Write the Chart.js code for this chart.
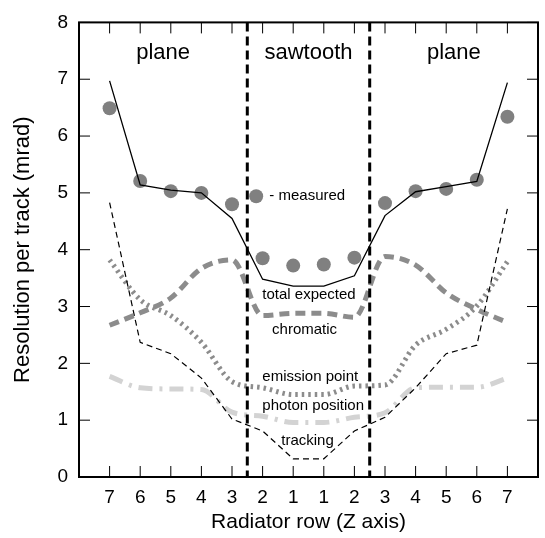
<!DOCTYPE html>
<html lang="en">
<head>
  <meta charset="UTF-8" />
  <title>Resolution per track</title>
  <script src="https://cdn.jsdelivr.net/npm/chart.js"></script>
  <style>
    body { margin: 0; background: #fff; }
    #chart { display: block; }
  </style>
</head>
<body>
  <canvas id="chart" width="545" height="538"></canvas>

  <script>
    // radiator rows along the Z axis, left plane -> sawtooth -> right plane
    const rows = ["7", "6", "5", "4", "3", "2", "1", "1", "2", "3", "4", "5", "6", "7"];
    const yTicks = [0, 1, 2, 3, 4, 5, 6, 7, 8];

    const measured      = [6.49, 5.21, 5.03, 5.00, 4.80, 3.85, 3.72, 3.74, 3.86, 4.82, 5.03, 5.07, 5.23, 6.34];
    const totalExpected = [6.97, 5.14, 5.05, 5.00, 4.55, 3.48, 3.36, 3.36, 3.54, 4.60, 5.02, 5.11, 5.20, 6.94];
    const chromatic     = [2.67, 2.89, 3.15, 3.67, 3.82, 2.84, 2.88, 2.88, 2.81, 3.88, 3.73, 3.24, 2.95, 2.72];
    const emission      = [3.82, 3.12, 2.84, 2.37, 1.68, 1.57, 1.45, 1.45, 1.60, 1.62, 2.32, 2.60, 3.01, 3.79];
    const photon        = [1.77, 1.57, 1.55, 1.54, 1.14, 1.07, 0.96, 0.96, 1.05, 1.13, 1.57, 1.58, 1.58, 1.74];
    const tracking      = [4.83, 2.37, 2.17, 1.74, 1.02, 0.81, 0.32, 0.32, 0.81, 1.05, 1.57, 2.17, 2.32, 4.72];

    // boundaries between radiator types (in row-index units)
    const sectionBounds = [5.5, 9.5];
    const sections = [
      { text: "plane", from: 0, to: 5.5 },
      { text: "sawtooth", from: 5.5, to: 9.5 },
      { text: "plane", from: 9.5, to: 15 }
    ];
    const sectionLabelY = 7.47;

    // in-plot labels, x/y in data units, left aligned
    const notes = [
      { text: "- measured", x: 6.22, y: 4.94 },
      { text: "total expected", x: 5.99, y: 3.21 },
      { text: "chromatic", x: 6.31, y: 2.59 },
      { text: "emission point", x: 5.99, y: 1.77 },
      { text: "photon position", x: 5.99, y: 1.25 },
      { text: "tracking", x: 6.61, y: 0.64 }
    ];
    const measuredKey = { x: 5.79, y: 4.94 };

    const FONT = "'Liberation Sans', Arial, Helvetica, sans-serif";
    const toPoints = arr => arr.map((v, i) => ({ x: i + 1, y: v }));

    const overlay = {
      id: "overlay",
      afterDatasetsDraw(chart) {
        const { ctx, chartArea: a, scales: { x, y } } = chart;
        ctx.save();

        // dashed section boundaries
        ctx.strokeStyle = "#000";
        ctx.lineWidth = 3;
        ctx.setLineDash([9, 5]);
        sectionBounds.forEach(b => {
          const px = x.getPixelForValue(b);
          ctx.beginPath();
          ctx.moveTo(px, a.top);
          ctx.lineTo(px, a.bottom);
          ctx.stroke();
        });
        ctx.setLineDash([]);

        // inward ticks on all four sides
        ctx.lineWidth = 1;
        ctx.beginPath();
        x.ticks.forEach(t => {
          const px = x.getPixelForValue(t.value);
          ctx.moveTo(px, a.bottom); ctx.lineTo(px, a.bottom - 11);
          ctx.moveTo(px, a.top); ctx.lineTo(px, a.top + 11);
        });
        y.ticks.forEach(t => {
          const py = y.getPixelForValue(t.value);
          ctx.moveTo(a.left, py); ctx.lineTo(a.left + 11, py);
          ctx.moveTo(a.right, py); ctx.lineTo(a.right - 11, py);
        });
        ctx.stroke();

        // frame
        ctx.lineWidth = 2;
        ctx.strokeRect(a.left, a.top, a.right - a.left, a.bottom - a.top);

        // section names
        ctx.fillStyle = "#000";
        ctx.textAlign = "center";
        ctx.textBaseline = "middle";
        ctx.font = "22px " + FONT;
        sections.forEach(s => {
          const px = (x.getPixelForValue(s.from) + x.getPixelForValue(s.to)) / 2;
          ctx.fillText(s.text, px, y.getPixelForValue(sectionLabelY));
        });

        // curve labels
        ctx.textAlign = "left";
        ctx.font = "15px " + FONT;
        notes.forEach(n => ctx.fillText(n.text, x.getPixelForValue(n.x), y.getPixelForValue(n.y)));

        // marker for "measured"
        ctx.fillStyle = "#808080";
        ctx.beginPath();
        ctx.arc(x.getPixelForValue(measuredKey.x), y.getPixelForValue(measuredKey.y), 7, 0, Math.PI * 2);
        ctx.fill();

        ctx.restore();
      }
    };

    new Chart(document.getElementById("chart"), {
      type: "line",
      data: {
        datasets: [
          { label: "total expected", data: toPoints(totalExpected), borderColor: "#000", borderWidth: 1.3, pointRadius: 0, tension: 0, order: 1 },
          { label: "tracking", data: toPoints(tracking), borderColor: "#000", borderWidth: 1.2, borderDash: [6, 4], pointRadius: 0, tension: 0, order: 2 },
          { label: "chromatic", data: toPoints(chromatic), borderColor: "#8c8c8c", borderWidth: 5, borderDash: [10, 6], pointRadius: 0, cubicInterpolationMode: "monotone", order: 3 },
          { label: "emission point", data: toPoints(emission), borderColor: "#8c8c8c", borderWidth: 5, borderDash: [2.5, 4], pointRadius: 0, cubicInterpolationMode: "monotone", order: 4 },
          { label: "photon position", data: toPoints(photon), borderColor: "#d3d3d3", borderWidth: 5, borderDash: [14, 7, 3, 7], pointRadius: 0, cubicInterpolationMode: "monotone", order: 5 },
          { label: "measured", data: toPoints(measured), showLine: false, pointRadius: 7, pointBackgroundColor: "#808080", pointBorderWidth: 0, order: 6 }
        ]
      },
      options: {
        responsive: false,
        animation: false,
        layout: { padding: { top: 15, right: 5, left: 0, bottom: 0 } },
        plugins: { legend: { display: false }, tooltip: { enabled: false } },
        scales: {
          x: {
            type: "linear",
            min: 0,
            max: 15,
            afterBuildTicks: s => { s.ticks = rows.map((r, i) => ({ value: i + 1 })); },
            afterFit: s => { s.height = 61; },
            ticks: {
              callback: v => rows[v - 1],
              autoSkip: false,
              maxRotation: 0,
              padding: 9,
              color: "#000",
              font: { family: FONT, size: 19 }
            },
            grid: { display: false, drawTicks: false },
            border: { display: false },
            title: {
              display: true,
              text: "Radiator row (Z axis)",
              color: "#000",
              font: { family: FONT, size: 21 },
              padding: { top: 0, bottom: 3 }
            }
          },
          y: {
            min: 0,
            max: 8,
            afterBuildTicks: s => { s.ticks = yTicks.map(v => ({ value: v })); },
            afterFit: s => { s.width = 79; },
            ticks: {
              padding: 11,
              color: "#000",
              font: { family: FONT, size: 19 }
            },
            grid: { display: false, drawTicks: false },
            border: { display: false },
            title: {
              display: true,
              text: "Resolution per track (mrad)",
              color: "#000",
              font: { family: FONT, size: 22 },
              padding: { top: 10, bottom: 0 }
            }
          }
        }
      },
      plugins: [overlay]
    });
  </script>
</body>
</html>
